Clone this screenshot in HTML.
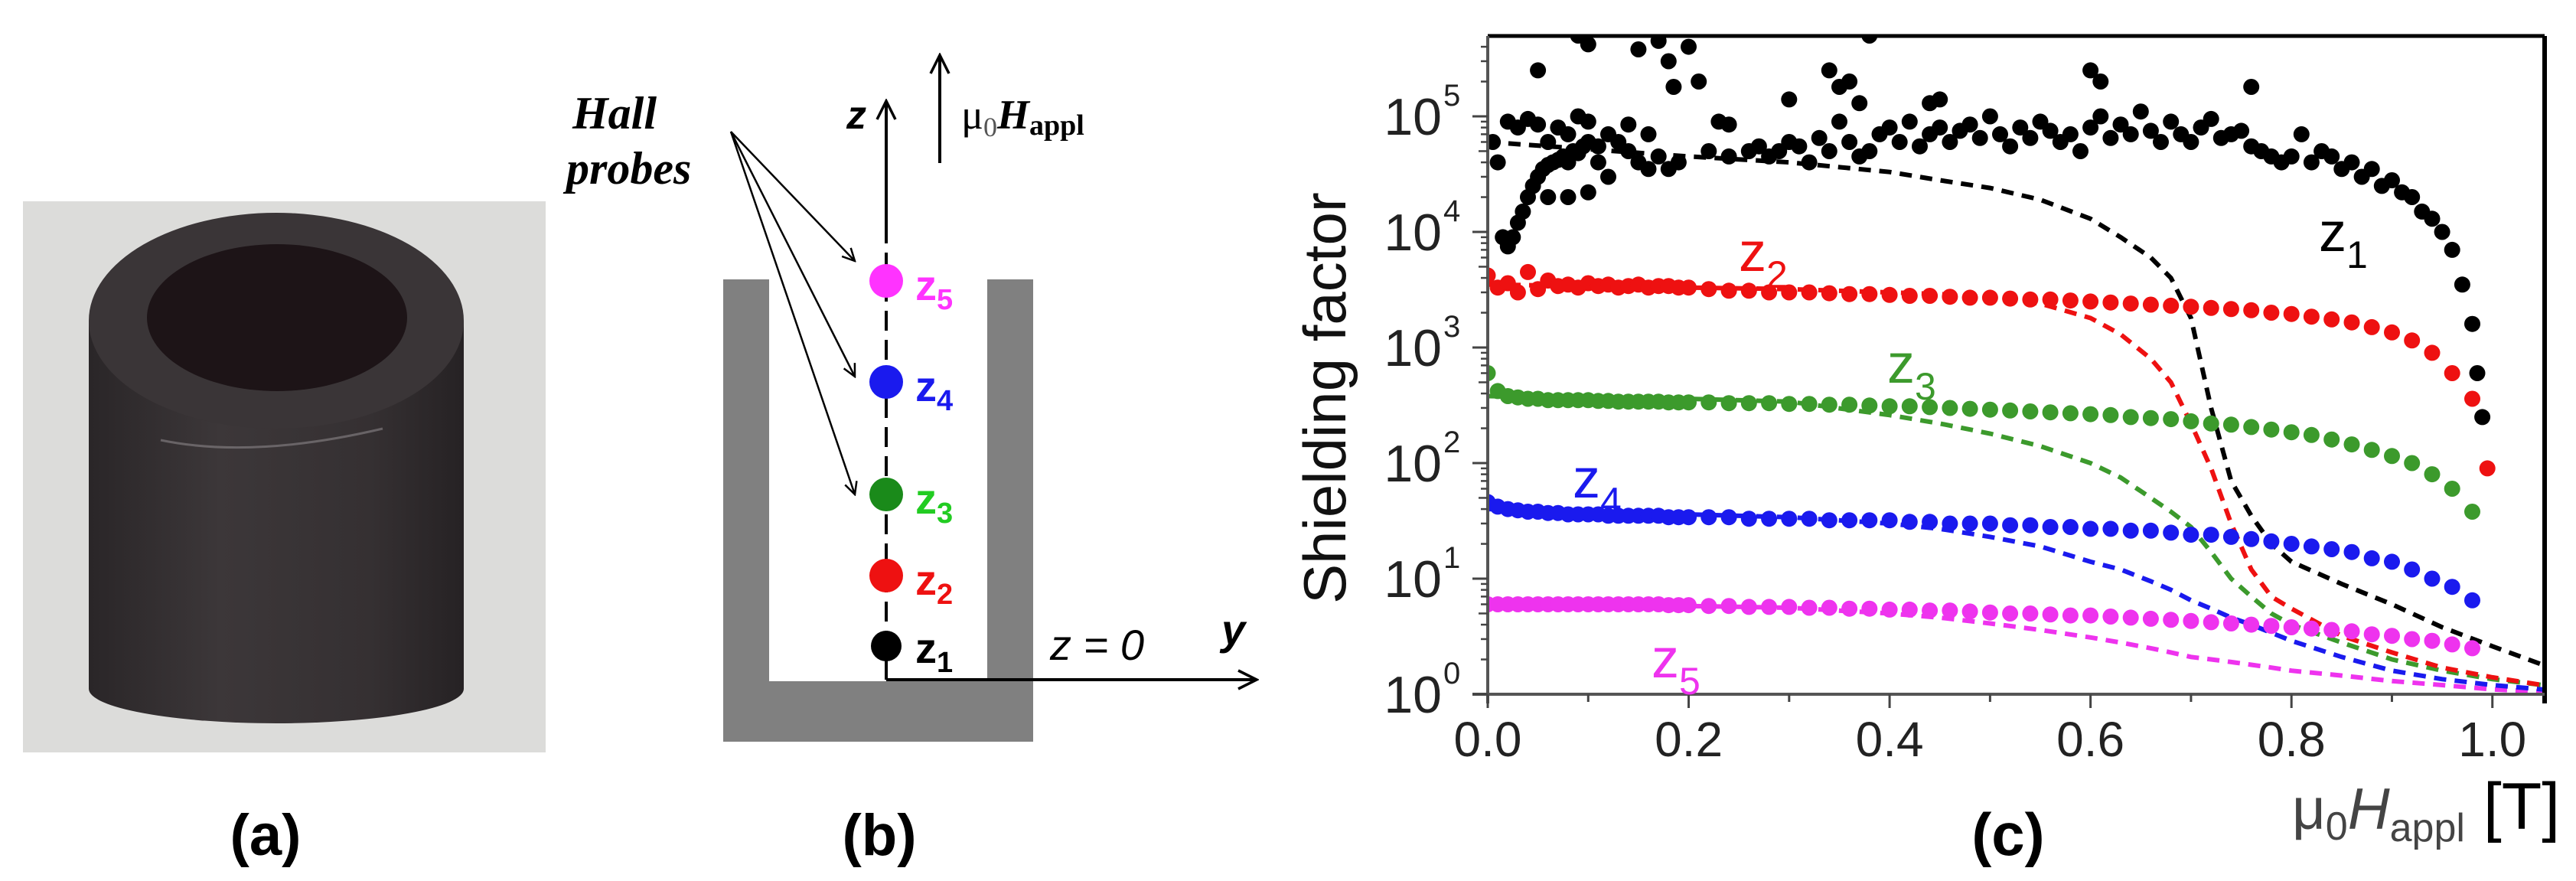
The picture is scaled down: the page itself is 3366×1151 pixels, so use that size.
<!DOCTYPE html>
<html><head><meta charset="utf-8"><style>
html,body{margin:0;padding:0;background:#fff;}
svg{display:block;}
text{font-family:"Liberation Sans",sans-serif;}
</style></head><body>
<svg id="fig" width="3366" height="1151" viewBox="0 0 3366 1151" xmlns="http://www.w3.org/2000/svg">
<defs>
<linearGradient id="cylg" x1="0" x2="1" y1="0" y2="0">
<stop offset="0" stop-color="#2a2628"/><stop offset="0.35" stop-color="#3c3739"/><stop offset="0.75" stop-color="#353032"/><stop offset="1" stop-color="#262224"/>
</linearGradient>
<clipPath id="plotclip"><rect x="1944" y="47" width="1381" height="860"/></clipPath>
<marker id="ah" viewBox="0 0 20 20" refX="18" refY="10" markerWidth="20" markerHeight="20" markerUnits="userSpaceOnUse" orient="auto"><path d="M2,2 L18,10 L2,18" fill="none" stroke="#000" stroke-width="2.5"/></marker>
<marker id="ah2" viewBox="0 0 30 30" refX="27" refY="15" markerWidth="30" markerHeight="30" markerUnits="userSpaceOnUse" orient="auto"><path d="M3,3 L27,15 L3,27" fill="none" stroke="#000" stroke-width="3.5"/></marker>
</defs>

<!-- Panel (a): photo -->
<g>
<rect x="30" y="263" width="683" height="720" fill="#dcdcda"/>
<g>
<path d="M116,419 L116,900 A245,45 0 0 0 606,900 L606,419 Z" fill="url(#cylg)"/>
<ellipse cx="361" cy="419" rx="245" ry="141" fill="#3a3537"/>
<ellipse cx="362" cy="415" rx="170" ry="96" fill="#1d1417"/>
<path d="M210,575 Q330,600 500,560" stroke="#8a8588" stroke-width="3" fill="none" opacity="0.6"/>
</g>
</g>
<text x="347" y="1117" font-size="76" font-weight="bold" text-anchor="middle">(a)</text>

<!-- Panel (b): schematic -->
<g>
<path d="M945,365 L1005,365 L1005,890 L1290,890 L1290,365 L1350,365 L1350,969 L945,969 Z" fill="#808080"/>
<line x1="1158" y1="888" x2="1158" y2="300" stroke="#000" stroke-width="4" stroke-dasharray="26,12"/>
<line x1="1158" y1="310" x2="1158" y2="132" stroke="#000" stroke-width="4" marker-end="url(#ah2)"/>
<line x1="1158" y1="888" x2="1642" y2="888" stroke="#000" stroke-width="4" marker-end="url(#ah2)"/>
<line x1="1228" y1="213" x2="1228" y2="72" stroke="#000" stroke-width="4" marker-end="url(#ah2)"/>
<text x="1106" y="168" font-size="52" font-weight="bold" font-style="italic">z</text>
<text x="1256" y="168" font-size="54" style="font-family:'Liberation Serif',serif">μ<tspan font-size="36" dy="10" fill="#555">0</tspan><tspan dy="-10" font-style="italic" font-weight="bold">H</tspan><tspan font-size="38" dy="8" font-weight="bold">appl</tspan></text>
<text x="748" y="168" font-size="60" font-weight="bold" font-style="italic" style="font-family:'Liberation Serif',serif">Hall</text>
<text x="740" y="240" font-size="60" font-weight="bold" font-style="italic" style="font-family:'Liberation Serif',serif">probes</text>
<line x1="955" y1="172" x2="1117" y2="341" stroke="#000" stroke-width="2.5" marker-end="url(#ah)"/>
<line x1="955" y1="172" x2="1117" y2="492" stroke="#000" stroke-width="2.5" marker-end="url(#ah)"/>
<line x1="955" y1="172" x2="1117" y2="646" stroke="#000" stroke-width="2.5" marker-end="url(#ah)"/>
<g><circle cx="1158" cy="367" r="22" fill="#ff33ff"/><text x="1196" y="392" font-size="56" font-weight="bold" fill="#ff33ff">z<tspan font-size="38" dy="12">5</tspan></text></g>
<g><circle cx="1158" cy="499" r="22" fill="#1a1aee"/><text x="1196" y="524" font-size="56" font-weight="bold" fill="#1a1aee">z<tspan font-size="38" dy="12">4</tspan></text></g>
<g><circle cx="1158" cy="646" r="22" fill="#1a8a1a"/><text x="1196" y="671" font-size="56" font-weight="bold" fill="#22cc22">z<tspan font-size="38" dy="12">3</tspan></text></g>
<g><circle cx="1158" cy="752" r="22" fill="#ee1111"/><text x="1196" y="777" font-size="56" font-weight="bold" fill="#ee1111">z<tspan font-size="38" dy="12">2</tspan></text></g>
<g><circle cx="1158" cy="844" r="20" fill="#000"/><text x="1196" y="866" font-size="56" font-weight="bold" fill="#000">z<tspan font-size="38" dy="12">1</tspan></text></g>
<text x="1372" y="862" font-size="56" font-style="italic">z = 0</text>
<text x="1596" y="842" font-size="56" font-style="italic" font-weight="bold">y</text>
</g>
<text x="1149" y="1117" font-size="76" font-weight="bold" text-anchor="middle">(b)</text>

<!-- Panel (c): chart -->
<g id="chart"></g>
<text x="2624" y="1117" font-size="78" font-weight="bold" text-anchor="middle">(c)</text>
</svg>
<script>
const xGrid=[0,0.01,0.02,0.03,0.04,0.05,0.06,0.07,0.08,0.09,0.10,0.11,0.12,0.13,0.14,0.15,0.16,0.17,0.18,0.19,0.20,0.22,0.24,0.26,0.28,0.30,0.32,0.34,0.36,0.38,0.40,0.42,0.44,0.46,0.48,0.50,0.52,0.54,0.56,0.58,0.60,0.62,0.64,0.66,0.68,0.70,0.72,0.74,0.76,0.78,0.80,0.82,0.84,0.86,0.88,0.90,0.92,0.94,0.96,0.98,0.995];
const z2Vals=[4200,3300,3600,3000,4500,3200,3800,3400,3500,3300,3600,3400,3500,3300,3400,3500,3300,3400,3400,3300,3300,3200,3100,3100,3000,3000,3000,2950,2900,2900,2850,2800,2800,2750,2700,2700,2650,2600,2600,2550,2500,2450,2400,2350,2300,2250,2200,2150,2100,2000,1950,1850,1750,1650,1500,1350,1150,900,600,360,90];
const z3Vals=[600,420,380,370,360,360,350,350,350,350,350,345,345,340,340,340,340,340,335,335,335,335,330,330,330,325,325,320,320,315,310,310,305,300,295,290,285,280,275,270,265,260,250,245,240,230,220,215,205,195,185,175,160,145,130,115,100,80,60,38,null];
const z4Vals=[46,42,40,39,38,38,37,37,36,36,36,36,35,35,35,35,35,35,34,34,34,34,34,33,33,33,33,32,32,32,32,31,31,30,30,30,29,29,28,28,27,27,26,26,25,24,24,23,22,21,20,19,18,17,15,14,12,10,8.5,6.5,null];
const z5Vals=[6,6,6,6,6,6,6,6,6,6,6,6,6,6,6,6,6,6,5.9,5.9,5.9,5.8,5.8,5.7,5.7,5.7,5.6,5.6,5.5,5.5,5.4,5.4,5.3,5.3,5.2,5.1,5.0,5.0,4.9,4.8,4.8,4.7,4.6,4.5,4.4,4.3,4.2,4.1,4.0,3.9,3.8,3.7,3.6,3.5,3.3,3.2,3.0,2.9,2.7,2.5,null];
const z1X=[0.005,0.01,0.015,0.02,0.025,0.03,0.035,0.04,0.045,0.05,0.055,0.06,0.065,0.07,0.075,0.08,0.085,0.09,0.095,0.1,0.11,0.12,0.13,0.14,0.15,0.16,0.17,0.18,0.19,
0.02,0.03,0.04,0.05,0.06,0.07,0.08,0.09,0.1,0.11,0.06,0.08,0.1,0.12,0.14,0.16,
0.05,0.09,0.1,0.15,0.17,0.18,0.185,0.2,0.21,0.23,0.24,0.3,0.34,0.35,0.36,0.37,0.38,0.44,0.45,0.6,0.61,0.76,
0.22,0.24,0.26,0.27,0.28,0.29,0.3,0.31,0.32,0.33,0.34,0.35,0.36,0.37,0.38,0.39,0.4,0.41,0.42,0.43,0.44,0.45,0.46,0.47,0.48,0.49,0.5,0.51,0.52,0.53,0.54,0.55,0.56,0.57,0.58,0.59,0.6,0.61,0.62,0.63,0.64,0.65,0.66,0.67,0.68,0.69,0.7,0.71,0.72,0.73,0.74,0.75,0.76,0.77,0.78,0.79,0.8,0.81,0.82,0.83,0.84,0.85,0.86,0.87,0.88,0.89,0.9,0.91,0.92,0.93,0.94,0.95,0.96,0.97,0.98,0.985,0.99];
const z1Y=[60000,40000,9000,7500,9000,12000,15000,20000,25000,30000,35000,38000,40000,42000,45000,40000,50000,48000,55000,60000,55000,70000,60000,50000,40000,35000,45000,35000,40000,
90000,80000,95000,85000,60000,80000,70000,100000,90000,40000,20000,20000,22000,30000,85000,70000,
250000,500000,420000,380000,450000,300000,180000,400000,200000,90000,85000,140000,250000,180000,200000,130000,500000,130000,140000,250000,200000,180000,
50000,45000,50000,55000,45000,50000,60000,55000,40000,65000,50000,90000,60000,45000,50000,70000,80000,60000,90000,55000,70000,80000,60000,75000,85000,65000,100000,70000,55000,80000,65000,90000,75000,60000,70000,50000,80000,100000,65000,85000,70000,110000,75000,60000,90000,70000,60000,80000,95000,65000,70000,75000,55000,50000,45000,40000,45000,70000,40000,50000,45000,35000,40000,30000,35000,25000,28000,22000,20000,15000,13000,10000,7000,3500,1600,600,250];
const dashX=[0,0.1,0.2,0.3,0.4,0.45,0.5,0.55,0.6,0.63,0.66,0.68,0.7,0.72,0.74,0.76,0.78,0.8,0.85,0.9,0.95,1.0,1.05];
const fit1=[60000,52000,45000,40000,33000,28000,24000,19000,13000,9000,6000,4000,1800,300,70,35,20,14,9,6,3.8,2.6,1.8];
const fit2=[3500,3400,3300,3200,3000,2900,2700,2400,1800,1300,800,500,220,90,30,12,7,5.5,3.2,2.3,1.7,1.4,1.2];
const fit3=[380,370,360,340,260,220,180,140,100,75,50,38,28,17,10,7,5,4,2.8,2,1.6,1.35,1.2];
const fit4=[40,38,36,34,30,27,23,19,14,12,9.5,8,6.5,5.5,4.6,4,3.4,2.9,2.1,1.6,1.35,1.2,1.1];
const fit5=[6,5.9,5.8,5.6,5,4.6,4.1,3.6,3.1,2.8,2.5,2.3,2.1,2.0,1.9,1.8,1.7,1.6,1.45,1.3,1.2,1.1,1.05];
const xTicks=[0,0.2,0.4,0.6,0.8,1.0];
const xTickLabels=["0.0","0.2","0.4","0.6","0.8","1.0"];
const yDecades=[0,1,2,3,4,5];

const NS="http://www.w3.org/2000/svg";
const X0=1944,X1=3325,Y0=907,YT=47,XMAX=1.052,DEC=151;
function sx(t){return X0+(X1-X0)*t/XMAX;}
function sy(v){return Y0-DEC*Math.log10(v);}
const chart=document.getElementById('chart');
function mk(tag,attrs,parent){const e=document.createElementNS(NS,tag);for(const k in attrs)e.setAttribute(k,attrs[k]);(parent||chart).appendChild(e);return e;}

const data=mk('g',{'clip-path':'url(#plotclip)'});



function dashed(xs,vs,color,name){
  let d='';xs.forEach((x,i)=>{d+=(i?'L':'M')+sx(x).toFixed(1)+','+sy(vs[i]).toFixed(1);});
  const p=mk('path',{d:d,fill:'none',stroke:color,'stroke-width':6,'stroke-dasharray':'16,11'},data);
  
  
}
function dots(xs,vs,color,name){
  const g=mk('g',{fill:color},data);
  
  
  xs.forEach((x,i)=>{if(vs[i]==null)return;mk('circle',{cx:sx(x).toFixed(1),cy:sy(vs[i]).toFixed(1),r:10.5},g);});
}
dashed(dashX,fit5,'#ee33ee','fit-line-z5');
dashed(dashX,fit4,'#1a1aee','fit-line-z4');
dashed(dashX,fit3,'#3c9a2c','fit-line-z3');
dashed(dashX,fit2,'#ee1111','fit-line-z2');
dashed(dashX,fit1,'#000','fit-line-z1');
dots(xGrid,z5Vals,'#ee33ee','series-z5');
dots(xGrid,z4Vals,'#1a1aee','series-z4');
dots(xGrid,z3Vals,'#3c9a2c','series-z3');
dots(xGrid,z2Vals,'#ee1111','series-z2');
dots(z1X,z1Y,'#000','series-z1');

const ax=mk('g',{});


mk('line',{x1:X0,y1:YT,x2:X1,y2:YT,stroke:'#000','stroke-width':5},ax);
mk('line',{x1:X1,y1:YT,x2:X1,y2:Y0+12,stroke:'#000','stroke-width':6},ax);
mk('line',{x1:X0,y1:YT,x2:X0,y2:Y0+12,stroke:'#555','stroke-width':4},ax);
mk('line',{x1:X0-20,y1:Y0,x2:X1,y2:Y0,stroke:'#555','stroke-width':4},ax);
for(let k=0;k<=10;k++){const t=k/10;const x=sx(t);mk('line',{x1:x,y1:Y0,x2:x,y2:Y0+(k%2?10:18),stroke:'#444','stroke-width':3},ax);}
xTicks.forEach((t,i)=>{
  const tx=mk('text',{x:sx(t),y:988,'font-size':64,'text-anchor':'middle',fill:'#222'},ax);
  tx.textContent=xTickLabels[i];
  
  
});
yDecades.forEach(dk=>{
  const y=sy(Math.pow(10,dk));
  mk('line',{x1:X0-20,y1:y,x2:X0,y2:y,stroke:'#444','stroke-width':3},ax);
  for(let m=2;m<=9;m++){const v=m*Math.pow(10,dk);const yy=sy(v);if(yy<YT)continue;mk('line',{x1:X0-(m==5?12:9),y1:yy,x2:X0,y2:yy,stroke:'#444','stroke-width':2.5},ax);}
  const tx=mk('text',{x:1884,y:y+24,'font-size':68,'text-anchor':'end',fill:'#222'},ax);
  tx.textContent='10';
  
  
  const sp=mk('text',{x:1886,y:y-14,'font-size':40,fill:'#222'},ax);
  sp.textContent=String(dk);
});
</script>
<script>
(function(){
const svg=document.getElementById('fig');
const ns="http://www.w3.org/2000/svg";
const add=(html)=>{const g=document.createElementNS(ns,'g');g.innerHTML=html;svg.appendChild(g);return g;};
const g=add(`
<text x="1758" y="520" font-size="78" fill="#111" text-anchor="middle" transform="rotate(-90 1758 520)">Shielding factor</text>
<text x="2995" y="1083" font-size="76" fill="#444">μ<tspan font-size="52" dy="14">0</tspan><tspan dy="-14" font-style="italic">H</tspan><tspan font-size="52" dy="16">appl</tspan><tspan dy="-16" fill="#000" font-size="86"> [T]</tspan></text>
<text x="3030" y="328" font-size="72" fill="#000">z<tspan font-size="50" dy="22">1</tspan></text>
<text x="2272" y="354" font-size="72" fill="#ee1111">z<tspan font-size="50" dy="22">2</tspan></text>
<text x="2466" y="500" font-size="72" fill="#3c9a2c">z<tspan font-size="50" dy="22">3</tspan></text>
<text x="2055" y="650" font-size="72" fill="#1a1aee">z<tspan font-size="50" dy="22">4</tspan></text>
<text x="2158" y="885" font-size="72" fill="#ee33ee">z<tspan font-size="50" dy="22">5</tspan></text>`);


})();
</script>
</body></html>
